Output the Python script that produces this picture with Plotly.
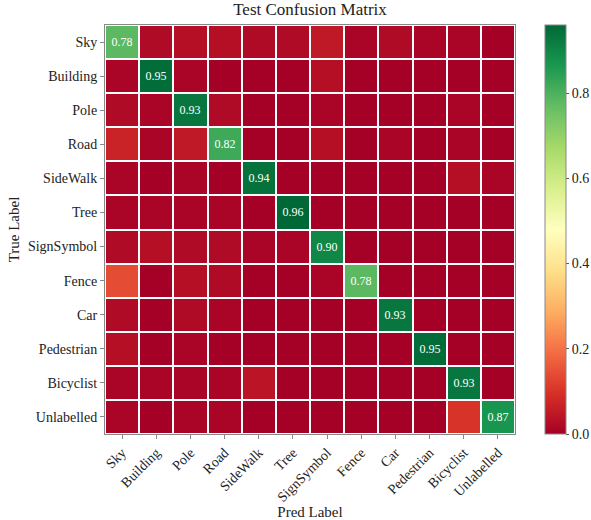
import plotly.graph_objects as go

labels = ["Sky", "Building", "Pole", "Road", "SideWalk", "Tree", "SignSymbol",
          "Fence", "Car", "Pedestrian", "Bicyclist", "Unlabelled"]

row_sky        = [0.78, 0.02, 0.03, 0.03, 0.02, 0.02, 0.05, 0.01, 0.02, 0.01, 0.01, 0.00]
row_building   = [0.01, 0.95, 0.01, 0.00, 0.00, 0.00, 0.03, 0.00, 0.00, 0.00, 0.00, 0.00]
row_pole       = [0.02, 0.01, 0.93, 0.02, 0.00, 0.00, 0.01, 0.00, 0.00, 0.00, 0.01, 0.00]
row_road       = [0.07, 0.01, 0.05, 0.82, 0.00, 0.00, 0.03, 0.00, 0.01, 0.00, 0.01, 0.00]
row_sidewalk   = [0.01, 0.00, 0.01, 0.00, 0.94, 0.00, 0.00, 0.00, 0.00, 0.00, 0.03, 0.01]
row_tree       = [0.01, 0.01, 0.01, 0.01, 0.00, 0.96, 0.00, 0.00, 0.00, 0.00, 0.00, 0.00]
row_signsymbol = [0.02, 0.03, 0.02, 0.02, 0.01, 0.01, 0.90, 0.00, 0.00, 0.00, 0.00, 0.00]
row_fence      = [0.14, 0.00, 0.03, 0.02, 0.00, 0.00, 0.01, 0.78, 0.00, 0.00, 0.00, 0.00]
row_car        = [0.02, 0.00, 0.02, 0.01, 0.00, 0.00, 0.00, 0.00, 0.93, 0.00, 0.00, 0.00]
row_pedestrian = [0.03, 0.00, 0.01, 0.00, 0.00, 0.00, 0.00, 0.00, 0.00, 0.95, 0.00, 0.00]
row_bicyclist  = [0.01, 0.01, 0.01, 0.01, 0.04, 0.00, 0.00, 0.00, 0.00, 0.00, 0.93, 0.00]
row_unlabelled = [0.01, 0.00, 0.01, 0.01, 0.00, 0.00, 0.00, 0.00, 0.00, 0.00, 0.10, 0.87]

matrix = [row_sky, row_building, row_pole, row_road, row_sidewalk, row_tree,
          row_signsymbol, row_fence, row_car, row_pedestrian, row_bicyclist, row_unlabelled]

text = [[(f"{v:.2f}" if i == j else "") for j, v in enumerate(row)] for i, row in enumerate(matrix)]

font_family = "Liberation Serif, Times New Roman, serif"

W, H = 591, 520
L, R, T, B = 105, 0, 25, 86
paper_w = W - L - R
plot_right = 515
cb_left = 545

fig = go.Figure(go.Heatmap(
    z=matrix, x=labels, y=labels,
    text=text, texttemplate="%{text}",
    textfont=dict(family=font_family, size=12, color="white"),
    colorscale="RdYlGn", zmin=0, zmax=0.96,
    xgap=2, ygap=2,
    colorbar=dict(
        x=(cb_left - L) / paper_w, xanchor="left", xpad=0,
        y=0.5, yanchor="middle", len=1.0, lenmode="fraction", ypad=0,
        thickness=21, outlinecolor="#888", outlinewidth=1,
        tickvals=[0, 0.2, 0.4, 0.6, 0.8], ticktext=["0.0", "0.2", "0.4", "0.6", "0.8"],
        ticks="outside", ticklen=3, tickcolor="#555",
        tickfont=dict(family=font_family, size=14, color="#222"),
    ),
))

fig.update_layout(
    width=W, height=H,
    margin=dict(l=L, r=R, t=T, b=B, autoexpand=False),
    paper_bgcolor="white", plot_bgcolor="white",
    title=dict(text="Test Confusion Matrix", x=(310 - L) / paper_w, xref="paper", xanchor="center",
               y=1, yref="container", yanchor="top", pad=dict(t=3),
               font=dict(family=font_family, size=17, color="#222")),
    font=dict(family=font_family, color="#222"),
)
fig.update_xaxes(
    domain=[0, (plot_right - L) / paper_w], automargin=False,
    tickangle=-45, ticks="outside", ticklen=4, tickcolor="#888",
    tickfont=dict(family=font_family, size=14, color="#222"),
    title=dict(text="Pred Label", font=dict(family=font_family, size=15, color="#222"), standoff=6),
    showline=True, linecolor="#888", mirror=True, linewidth=1,
)
fig.update_yaxes(
    autorange="reversed", automargin=False, ticks="outside", ticklen=4, tickcolor="#888",
    tickfont=dict(family=font_family, size=14, color="#222"),
    title=dict(text="True Label", font=dict(family=font_family, size=15, color="#222"), standoff=4),
    showline=True, linecolor="#888", mirror=True, linewidth=1,
)

fig.write_html("out.html")
